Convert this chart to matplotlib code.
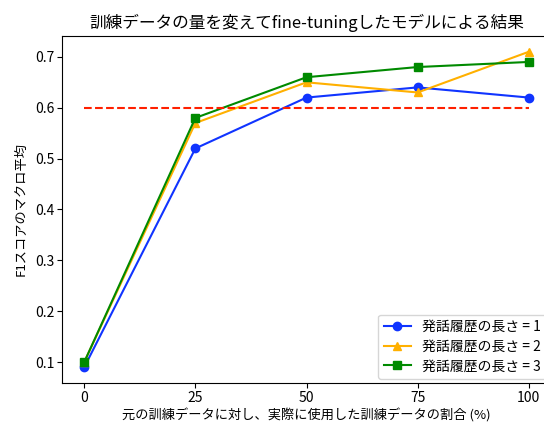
import matplotlib
matplotlib.use("Agg")
import matplotlib.pyplot as plt

plt.rcParams['font.family'] = ['Noto Sans CJK JP', 'DejaVu Sans']

# percentage of the original training data actually used
ratios = [0, 25, 50, 75, 100]
history_labels = ['発話履歴の長さ = 1', '発話履歴の長さ = 2', '発話履歴の長さ = 3']
f1_hist1 = [0.09, 0.52, 0.62, 0.64, 0.62]
f1_hist2 = [0.10, 0.57, 0.65, 0.63, 0.71]
f1_hist3 = [0.10, 0.58, 0.66, 0.68, 0.69]
baseline = 0.60

fig = plt.figure(figsize=(5.44, 4.23), dpi=100)
ax = fig.add_axes([62 / 544, 1 - 383 / 423, 489 / 544, 347 / 423])

ax.plot(ratios, f1_hist1, color='#1034ff', marker='o', label=history_labels[0])
ax.plot(ratios, f1_hist2, color='#ffb000', marker='^', label=history_labels[1])
ax.plot(ratios, f1_hist3, color='#008a00', marker='s', label=history_labels[2])
ax.plot([ratios[0], ratios[-1]], [baseline, baseline], color='#ff2000', linestyle='--')

ax.set_title('訓練データの量を変えてfine-tuningしたモデルによる結果', fontsize=12, pad=6)
ax.set_xlabel('元の訓練データに対し、実際に使用した訓練データの割合 (%)', fontsize=9.5, labelpad=3)
ax.set_ylabel('F1スコアのマクロ平均', fontsize=9.5, labelpad=5)
ax.set_xticks(ratios)
ax.tick_params(labelsize=10, pad=2)
ax.legend(loc='lower right', fontsize=10, labelspacing=0.4, borderaxespad=0.3)

fig.savefig('out.png', dpi=100)
